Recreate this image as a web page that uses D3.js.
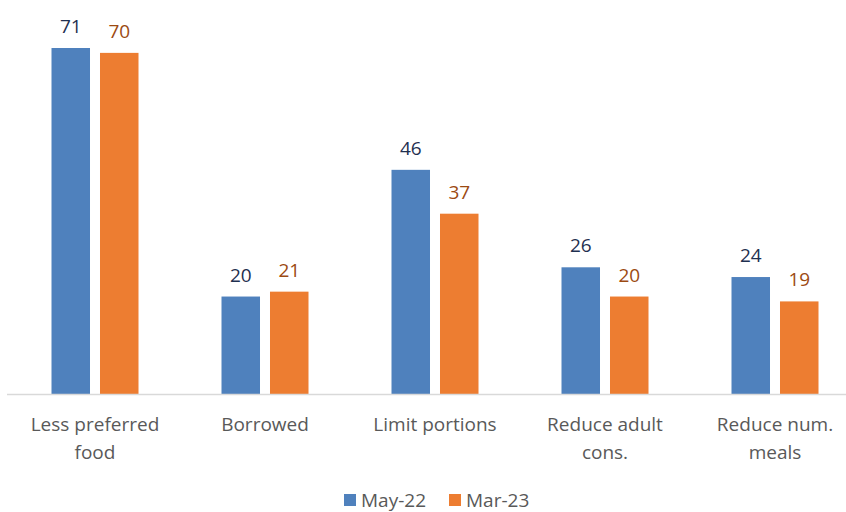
<!DOCTYPE html>
<html>
<head>
<meta charset="utf-8">
<script src="https://cdn.jsdelivr.net/npm/d3@7"></script>
<style>
  body { margin: 0; background: #fff; }
  text { font-family: "Open Sans", "Noto Sans", sans-serif; }
</style>
</head>
<body>
<div id="chart"></div>
<script>
// chart data
const categories = [["Less preferred", "food"], ["Borrowed"], ["Limit portions"], ["Reduce adult", "cons."], ["Reduce num.", "meals"]];
const seriesNames = ["May-22", "Mar-23"];
const may22 = [71, 20, 46, 26, 24];
const mar23 = [70, 21, 37, 20, 19];

const colors = ["#4f81bd", "#ed7d31"];
const labelColors = ["#1f3050", "#9c4a12"];

const width = 846, height = 512;
const baseY = 394;

const svg = d3.select("#chart").append("svg")
    .attr("width", width)
    .attr("height", height);

// x: one band per category, then a sub band per series
const x = d3.scaleBand()
    .domain(d3.range(categories.length))
    .range([10, 860]);

const xSub = d3.scaleBand()
    .domain([0, 1])
    .range([x.bandwidth() / 2 - 43.5, x.bandwidth() / 2 + 43.5])
    .paddingInner(0.206);

const y = d3.scaleLinear()
    .domain([0, 71])
    .range([baseY, 48]);

const series = [may22, mar23];

series.forEach((vals, si) => {
    const g = svg.append("g");
    g.selectAll("rect")
        .data(vals)
        .enter()
        .append("rect")
            .attr("x", (d, i) => x(i) + xSub(si))
            .attr("y", d => y(d))
            .attr("width", xSub.bandwidth())
            .attr("height", d => baseY - y(d))
            .style("fill", colors[si]);

    g.selectAll("text")
        .data(vals)
        .enter()
        .append("text")
            .attr("x", (d, i) => x(i) + xSub(si) + xSub.bandwidth() / 2)
            .attr("y", d => y(d) - 15)
            .attr("text-anchor", "middle")
            .style("font-size", "19px")
            .style("fill", labelColors[si])
            .text(d => d);
});

// baseline
svg.append("line")
    .attr("x1", 7)
    .attr("x2", 846)
    .attr("y1", baseY + 0.5)
    .attr("y2", baseY + 0.5)
    .attr("stroke", "#d9d9d9")
    .attr("stroke-width", 1.5);

// category labels
const catLabels = svg.selectAll(".cat")
    .data(categories)
    .enter()
    .append("text")
        .attr("class", "cat")
        .attr("text-anchor", "middle")
        .attr("x", (d, i) => x(i) + x.bandwidth() / 2)
        .attr("y", 431)
        .style("font-size", "19px")
        .style("fill", "#595959");

catLabels.selectAll("tspan")
    .data(d => d)
    .enter()
    .append("tspan")
        .attr("x", function() { return d3.select(this.parentNode).attr("x"); })
        .attr("dy", (d, i) => i === 0 ? 0 : 28)
        .text(d => d);

// legend
const legend = svg.append("g").attr("transform", "translate(344, 500)");
const legendX = [0, 105];
seriesNames.forEach((name, i) => {
    legend.append("rect")
        .attr("x", legendX[i])
        .attr("y", -6)
        .attr("width", 12)
        .attr("height", 12)
        .style("fill", colors[i]);
    legend.append("text")
        .attr("x", legendX[i] + 17)
        .attr("y", 7)
        .style("font-size", "19px")
        .style("fill", "#595959")
        .text(name);
});
</script>
</body>
</html>
